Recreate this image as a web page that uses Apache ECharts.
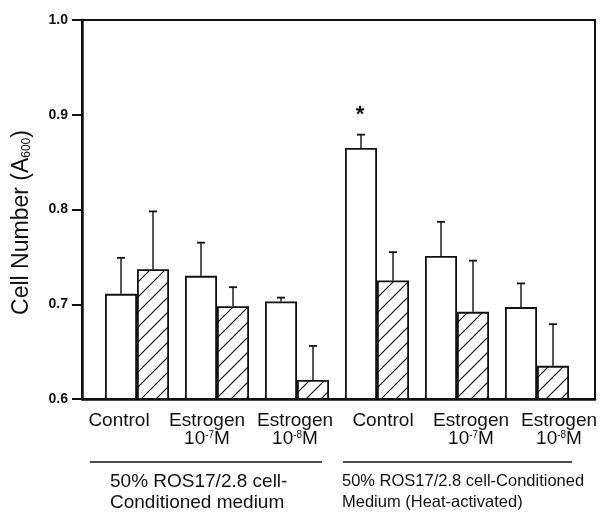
<!DOCTYPE html>
<html>
<head>
<meta charset="utf-8">
<script src="https://cdn.jsdelivr.net/npm/echarts@6/dist/echarts.min.js"></script>
<style>html,body{margin:0;padding:0;background:#fff;}#c{width:611px;height:514px;}</style>
</head>
<body>
<div id="c"></div>
<script>
// ---- data ----
var categories = ['Control', 'Estrogen\n10{sup|-7}M', 'Estrogen\n10{sup|-8}M', 'Control', 'Estrogen\n10{sup|-7}M', 'Estrogen\n10{sup|-8}M'];
var openMean  = [0.711, 0.730, 0.703, 0.865, 0.751, 0.697];
var openErr   = [0.038, 0.035, 0.004, 0.014, 0.036, 0.025];
var hatchMean = [0.737, 0.698, 0.620, 0.725, 0.692, 0.635];
var hatchErr  = [0.061, 0.020, 0.036, 0.030, 0.054, 0.044];
var significance = ['', '', '', '*', '', ''];
var groupLabels = ['50% ROS17/2.8 cell-\nConditioned medium', '50% ROS17/2.8 cell-Conditioned\nMedium (Heat-activated)'];

// ---- hatch pattern ----
function makeHatch() {
  var s = 15;
  var cv = document.createElement('canvas');
  cv.width = s; cv.height = s;
  var ctx = cv.getContext('2d');
  ctx.fillStyle = '#fff'; ctx.fillRect(0, 0, s, s);
  ctx.strokeStyle = '#111'; ctx.lineWidth = 1.2;
  ctx.beginPath();
  ctx.moveTo(-2, s + 2); ctx.lineTo(s + 2, -2);
  ctx.moveTo(-2, 2); ctx.lineTo(2, -2);
  ctx.moveTo(s - 2, s + 2); ctx.lineTo(s + 2, s - 2);
  ctx.stroke();
  return cv;
}

var FONT = 'Liberation Sans, Arial, Helvetica, sans-serif';
var chart = echarts.init(document.getElementById('c'), null, {renderer: 'canvas'});

var errData = [];
for (var i = 0; i < categories.length; i++) {
  errData.push([i, openMean[i], openErr[i], -16, significance[i]]);
  errData.push([i, hatchMean[i], hatchErr[i], 16, '']);
}

var option = {
  backgroundColor: '#fff',
  animation: false,
  grid: [
    {left: 82, top: 20, width: 513, height: 379, show: true, borderColor: '#111', borderWidth: 2, backgroundColor: 'transparent'},
    {left: 97, top: 20, width: 480, height: 379},
    {left: 75, top: 20, width: 528, height: 379}
  ],
  xAxis: [
    {type: 'category', gridIndex: 0, data: categories, axisLine: {show: true, lineStyle: {color: '#111', width: 2.5}}, axisTick: {show: false}, axisLabel: {show: false}},
    {type: 'category', gridIndex: 1, data: categories, axisLine: {show: false}, axisTick: {show: false}, axisLabel: {show: false}},
    {type: 'category', gridIndex: 2, data: categories,
      axisLine: {show: false}, axisTick: {show: false},
      axisLabel: {show: true, interval: 0, margin: 13, color: '#111', fontFamily: FONT, fontSize: 19, lineHeight: 18,
        rich: {sup: {fontSize: 10, fontFamily: FONT, color: '#111', verticalAlign: 'top', lineHeight: 18}}}}
  ],
  yAxis: [
    {type: 'value', gridIndex: 0, min: 0.6, max: 1.0, interval: 0.1,
      axisLine: {show: true, lineStyle: {color: '#111', width: 2.5}},
      axisTick: {show: true, length: 10, lineStyle: {color: '#111', width: 2}},
      splitLine: {show: false},
      axisLabel: {color: '#111', fontFamily: FONT, fontSize: 14, fontWeight: 'bold', margin: 14, formatter: function (v) { return v.toFixed(1); }},
      name: 'Cell Number (A{sub|600})', nameLocation: 'middle', nameGap: 49, nameRotate: 90,
      nameTextStyle: {color: '#111', fontFamily: FONT, fontSize: 23, padding: [0, 26, 0, 0],
        rich: {sub: {fontSize: 12, fontFamily: FONT, color: '#111', verticalAlign: 'bottom'}}}},
    {type: 'value', gridIndex: 1, min: 0.6, max: 1.0, interval: 0.1, show: false},
    {type: 'value', gridIndex: 2, min: 0.6, max: 1.0, interval: 0.1, show: false}
  ],
  series: [
    {type: 'bar', xAxisIndex: 1, yAxisIndex: 1, data: openMean, barWidth: 32, barGap: '0%',
      itemStyle: {color: '#fff', borderColor: '#111', borderWidth: 1.8}},
    {type: 'bar', xAxisIndex: 1, yAxisIndex: 1, data: hatchMean, barWidth: 32, barGap: '0%',
      itemStyle: {color: {image: makeHatch(), repeat: 'repeat'}, borderColor: '#111', borderWidth: 1.8}},
    {type: 'custom', xAxisIndex: 1, yAxisIndex: 1, data: errData, z: 5,
      renderItem: function (params, api) {
        var c = api.value(0), m = api.value(1), e = api.value(2), off = api.value(3);
        var sig = errData[params.dataIndex][4];
        var p0 = api.coord([c, m]);
        var p1 = api.coord([c, m + e]);
        var x = p0[0] + off;
        var ch = [
          {type: 'line', shape: {x1: x, y1: p0[1], x2: x, y2: p1[1]}, style: {stroke: '#111', lineWidth: 1.4}},
          {type: 'line', shape: {x1: x - 4, y1: p1[1], x2: x + 4, y2: p1[1]}, style: {stroke: '#111', lineWidth: 1.8}}
        ];
        if (sig) {
          ch.push({type: 'text', x: x - 1, y: p1[1] - 20, style: {text: sig, fill: '#111', font: 'bold 22px ' + FONT, align: 'center', verticalAlign: 'middle'}});
        }
        return {type: 'group', children: ch};
      }}
  ],
  graphic: [
    {type: 'line', shape: {x1: 90, y1: 462, x2: 322, y2: 462}, style: {stroke: '#111', lineWidth: 1.3}},
    {type: 'line', shape: {x1: 343, y1: 462, x2: 572, y2: 462}, style: {stroke: '#111', lineWidth: 1.3}},
    {type: 'text', left: 110, top: 471, style: {text: groupLabels[0], fill: '#111', font: '19px ' + FONT, lineHeight: 21}},
    {type: 'text', left: 342, top: 471, style: {text: groupLabels[1], fill: '#111', font: '16.5px ' + FONT, lineHeight: 21}}
  ]
};
chart.setOption(option);
</script>
</body>
</html>
